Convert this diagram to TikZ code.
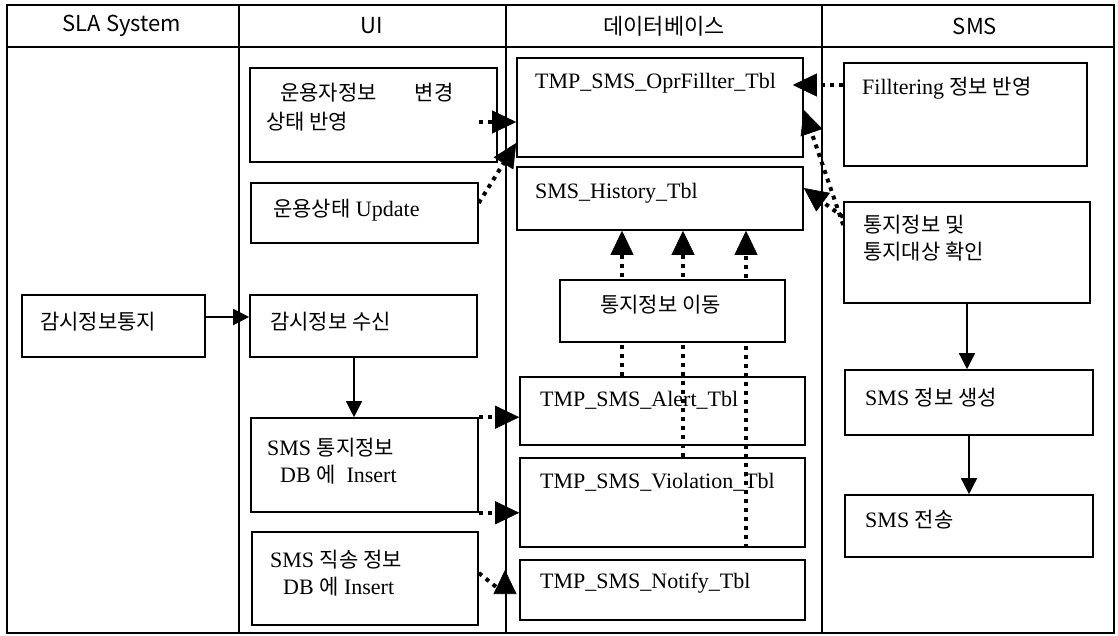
\documentclass[tikz,border=0pt]{standalone}
\usepackage{fontspec}
\setmainfont{Liberation Serif}
\newfontfamily\kr{Noto Sans CJK KR}
\usetikzlibrary{arrows.meta}
\newcommand\K[1]{{\kr\fontsize{21}{27}\selectfont #1}}
\begin{document}
\begin{tikzpicture}[x=1pt,y=-1pt,
  box/.style={draw, line width=1.6pt, inner sep=0pt, fill=white},
  txt/.style={anchor=west, inner sep=0pt, font=\fontsize{22}{27}\selectfont, align=left},
  hdr/.style={inner sep=0pt, font=\kr\fontsize{22}{26}\selectfont},
  lane/.style={line width=1.3pt},
  solidarrow/.style={line width=1.5pt, -{Triangle[length=16pt,width=16pt]}},
  dotarrow/.style={line width=4pt, dash pattern=on 4pt off 5pt, -{Triangle[length=24pt,width=23pt,line width=0.6pt]}}]

\fill[white] (0,0) rectangle (1118,636);
\useasboundingbox (0,0) rectangle (1118,636);

% lanes
\draw[lane] (7,5) rectangle (1114,633);
\draw[lane] (7,47) -- (1114,47);
\foreach \x in {239,506,822} \draw[lane] (\x,5) -- (\x,633);

% headers
\node[hdr] (h1) at (122,26) {SLA System};
\node[hdr] (h2) at (372,26) {UI};
\node[hdr] (h3) at (664,26) {데이터베이스};
\node[hdr] (h4) at (975,26) {SMS};

% helper coordinates
\coordinate (xa) at (354,0);
\coordinate (ya) at (0,317);
\coordinate (v1) at (622,0);
\coordinate (v2) at (683,0);
\coordinate (v3) at (746,0);
\coordinate (nb) at (505,594);
\coordinate (nt) at (505,570);

% SLA lane
\node[box, minimum width=183pt, minimum height=62pt] (A1) at (113.5,326) {};
\node[txt] (tA1) at (40,322) {\K{감시정보통지}};

% UI lane
\node[box, minimum width=247pt, minimum height=94pt] (U1) at (373.5,115) {};
\node[txt] (tU1) at (266,107.5) {\hspace*{14pt}\K{운용자정보}\hspace{38pt}\K{변경}\\[2pt]\K{상태 반영}};
\node[box, minimum width=227pt, minimum height=60pt] (U2) at (364.5,213) {};
\node[txt] (tU2) at (273,210) {\K{운용상태} Update};
\node[box, minimum width=227pt, minimum height=62pt] (U3) at (363.5,326) {};
\node[txt] (tU3) at (270,322) {\K{감시정보 수신}};
\node[box, minimum width=227pt, minimum height=94pt] (U4) at (364.5,465) {};
\node[txt] (tU4) at (267,461.5) {SMS \K{통지정보}\\\hspace*{13pt}DB \K{에}~ Insert};
\node[box, minimum width=226pt, minimum height=93pt] (U5) at (365,578.5) {};
\node[txt] (tU5) at (270,573.5) {SMS \K{직송 정보}\\\hspace*{13pt}DB \K{에} Insert};

% DB lane
\node[box, minimum width=286pt, minimum height=99pt] (D1) at (660,107.5) {};
\node[txt] (tD1) at (535,83) {TMP\_SMS\_OprFillter\_Tbl};
\node[box, minimum width=286pt, minimum height=63pt] (D2) at (660,198.5) {};
\node[txt] (tD2) at (535,193) {SMS\_History\_Tbl};
\node[box, minimum width=285pt, minimum height=68pt] (D4) at (662.5,411) {};
\node[txt] (tD4) at (540,400) {TMP\_SMS\_Alert\_Tbl};
\node[box, minimum width=285pt, minimum height=89pt] (D5) at (662.5,502.5) {};
\node[txt] (tD5) at (540,482) {TMP\_SMS\_Violation\_Tbl};
\node[box, minimum width=285pt, minimum height=60pt] (D6) at (662.5,590) {};
\node[txt] (tD6) at (540,583) {TMP\_SMS\_Notify\_Tbl};

% SMS lane
\node[box, minimum width=243pt, minimum height=103pt] (S1) at (965.5,114.5) {};
\node[txt] (tS1) at (862,88) {Filltering \K{정보 반영}};
\node[box, minimum width=246pt, minimum height=101pt] (S2) at (967,252.5) {};
\node[txt] (tS2) at (863,238) {\K{통지정보 및}\\\K{통지대상 확인}};
\node[box, minimum width=248pt, minimum height=65pt] (S3) at (969,402.5) {};
\node[txt] (tS3) at (865,398) {SMS \K{정보 생성}};
\node[box, minimum width=248pt, minimum height=62pt] (S4) at (969,526) {};
\node[txt] (tS4) at (865,520) {SMS \K{전송}};

% solid connectors
\draw[solidarrow] (A1.east |- ya) -- (U3.west |- ya);
\draw[solidarrow] (U3.south -| xa) -- (U4.north -| xa);
\draw[solidarrow] (S2.south) -- (S2.south |- S3.north);
\draw[solidarrow] (S3.south) -- (S3.south |- S4.north);

% dotted connectors
\draw[dotarrow] ([xshift=-19pt,yshift=-7pt]U1.east) -- ([yshift=-14.5pt]D1.west);
\draw[dotarrow] ([yshift=10pt]U2.east) -- ([yshift=-35.5pt]D1.west);
\draw[dotarrow] ([yshift=29.5pt]S1.west) -- ([xshift=-11pt,yshift=22.5pt]D1.east);
\draw[dotarrow] ([yshift=27.5pt]S2.west) -- ([yshift=-2.5pt]D1.east);
\draw[dotarrow] ([yshift=35.5pt]S2.west) -- ([yshift=10.5pt]D2.east);
\draw[dotarrow] (D4.north -| v1) -- (D2.south -| v1);
\draw[dotarrow] (D5.north -| v2) -- (D2.south -| v2);
\draw[dotarrow] (D5.south -| v3) -- (D2.south -| v3);
\draw[dotarrow] (U4.north east) -- (D4.west |- U4.north east);
\draw[dotarrow] (U4.south east) -- (D5.west |- U4.south east);
\draw[dotarrow] ([yshift=5.5pt]U5.east) -- (nb) -- (nt);

% box drawn over the passing lines
\node[box, minimum width=225pt, minimum height=62pt] (D3) at (672.5,311) {};
\node[txt] (tD3) at (600,305) {\K{통지정보 이동}};
\end{tikzpicture}
\end{document}
